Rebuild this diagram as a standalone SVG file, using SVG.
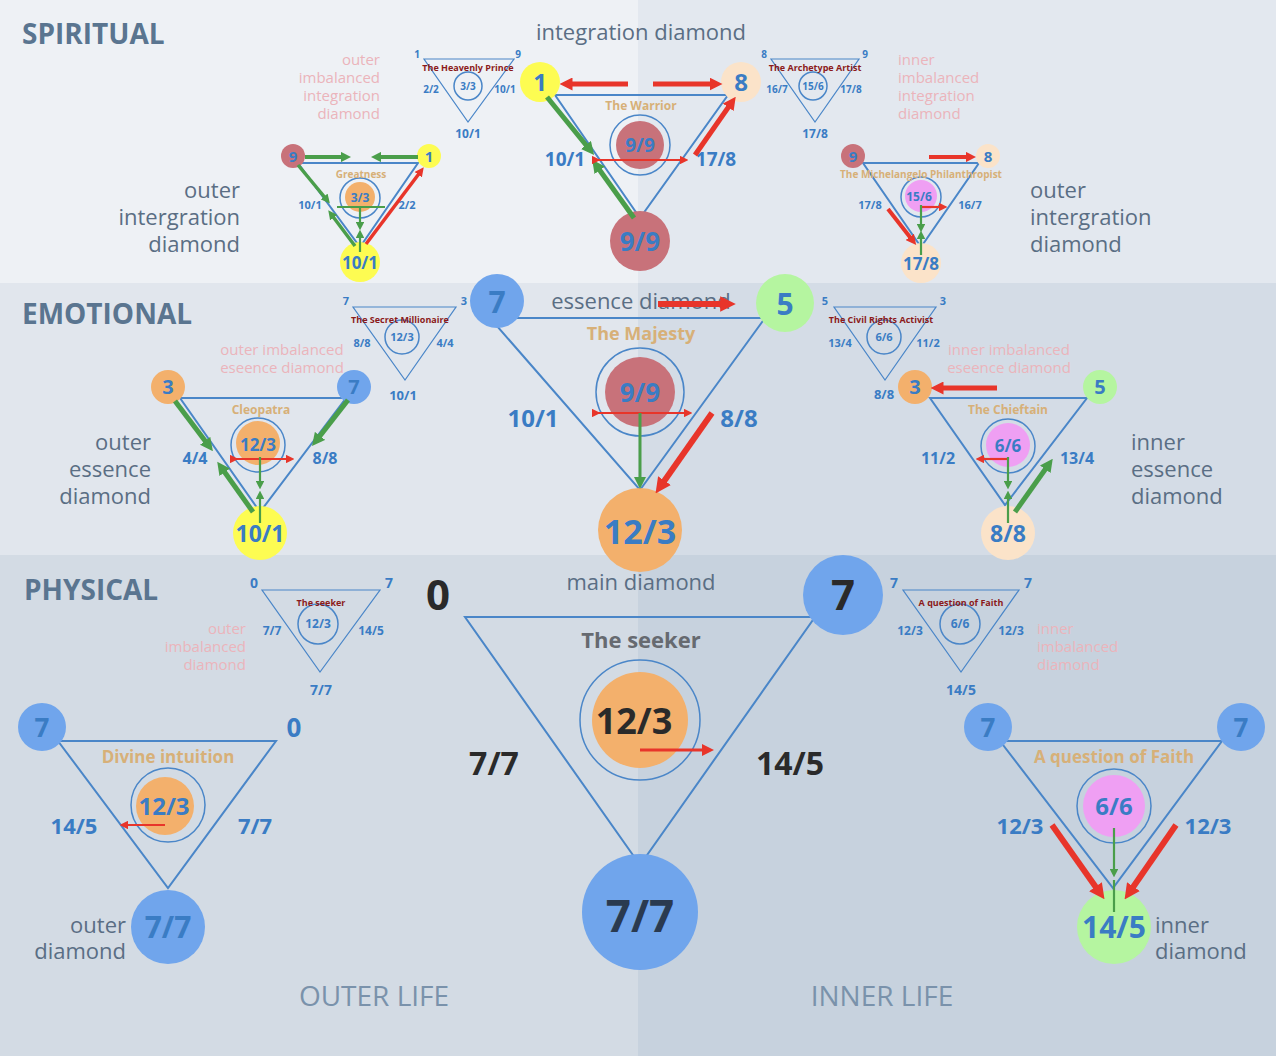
<svg xmlns="http://www.w3.org/2000/svg" width="1276" height="1056" viewBox="0 0 1276 1056">
<style>
text{font-family:"Open Sans","Liberation Sans",sans-serif}
.tri{fill:none;stroke:#4a86c8;stroke-width:2}
.tris{fill:none;stroke:#4a86c8;stroke-width:1.2}
.ring{fill:none;stroke:#4a86c8;stroke-width:1.5}
.lab{fill:#3a7cc4;font-weight:bold;text-anchor:middle}
.tt{fill:#d7b078;font-weight:bold;text-anchor:middle}
.st{fill:#8b1a1a;font-weight:bold;text-anchor:middle;font-size:9px}
.side{fill:#5a6e84;font-size:22px}
.pink{fill:#ebb4bb;font-size:15px}
.sec{fill:#5a7590;font-weight:bold;font-size:28px}
.red{stroke:#e8352a;fill:none}
.grn{stroke:#4a9e4a;fill:none}
.yel{fill:#fdfc52}.blu{fill:#70a5ec}.org{fill:#f3b06c}.pch{fill:#fbe3c9}.rd{fill:#c8727a}.pnk{fill:#ef9ff3}.lgr{fill:#b5f5a0}
</style>
<defs>
<marker id="ar" viewBox="0 0 10 10" refX="5" refY="5" markerWidth="2.6" markerHeight="2.6" orient="auto"><path d="M0,0L10,5L0,10z" fill="#e8352a"/></marker>
<marker id="ag" viewBox="0 0 10 10" refX="5" refY="5" markerWidth="2.6" markerHeight="2.6" orient="auto"><path d="M0,0L10,5L0,10z" fill="#4a9e4a"/></marker>
<marker id="ars" viewBox="0 0 10 10" refX="5" refY="5" markerWidth="4" markerHeight="4" orient="auto"><path d="M0,0L10,5L0,10z" fill="#e8352a"/></marker>
<marker id="ags" viewBox="0 0 10 10" refX="5" refY="5" markerWidth="4" markerHeight="4" orient="auto"><path d="M0,0L10,5L0,10z" fill="#4a9e4a"/></marker>
</defs>
<g id="background">
<rect x="0" y="0" width="638" height="283" fill="#eef1f5"/>
<rect x="638" y="0" width="638" height="283" fill="#e3e8ef"/>
<rect x="0" y="283" width="638" height="272" fill="#e1e6ed"/>
<rect x="638" y="283" width="638" height="272" fill="#d4dce6"/>
<rect x="0" y="555" width="638" height="501" fill="#d3dbe4"/>
<rect x="638" y="555" width="638" height="501" fill="#c7d2de"/>
</g>
<g id="labels">
<text class="sec" x="22" y="44">SPIRITUAL</text>
<text class="sec" x="22" y="324">EMOTIONAL</text>
<text class="sec" x="24" y="600">PHYSICAL</text>
<text x="641" y="40" text-anchor="middle" font-size="22" fill="#5a6e84">integration diamond</text>
<text x="641" y="309" text-anchor="middle" font-size="22" fill="#5a6e84">essence diamond</text>
<text x="641" y="590" text-anchor="middle" font-size="22" fill="#5a6e84">main diamond</text>
<text class="side" text-anchor="end"><tspan x="240" y="198">outer</tspan><tspan x="240" y="225">intergration</tspan><tspan x="240" y="252">diamond</tspan></text>
<text class="side"><tspan x="1030" y="198">outer</tspan><tspan x="1030" y="225">intergration</tspan><tspan x="1030" y="252">diamond</tspan></text>
<text class="side" text-anchor="end"><tspan x="151" y="450">outer</tspan><tspan x="151" y="477">essence</tspan><tspan x="151" y="504">diamond</tspan></text>
<text class="side"><tspan x="1131" y="450">inner</tspan><tspan x="1131" y="477">essence</tspan><tspan x="1131" y="504">diamond</tspan></text>
<text class="side" text-anchor="end"><tspan x="126" y="933">outer</tspan><tspan x="126" y="959">diamond</tspan></text>
<text class="side"><tspan x="1155" y="933">inner</tspan><tspan x="1155" y="959">diamond</tspan></text>
<text x="374" y="1006" text-anchor="middle" font-size="28" fill="#7a92ab">OUTER LIFE</text>
<text x="882" y="1006" text-anchor="middle" font-size="28" fill="#7a92ab">INNER LIFE</text>
<text class="pink" text-anchor="end"><tspan x="380" y="65">outer</tspan><tspan x="380" y="83">imbalanced</tspan><tspan x="380" y="101">integration</tspan><tspan x="380" y="119">diamond</tspan></text>
<text class="pink"><tspan x="898" y="65">inner</tspan><tspan x="898" y="83">imbalanced</tspan><tspan x="898" y="101">integration</tspan><tspan x="898" y="119">diamond</tspan></text>
<text class="pink" text-anchor="middle"><tspan x="282" y="355">outer imbalanced</tspan><tspan x="282" y="373">eseence diamond</tspan></text>
<text class="pink" text-anchor="middle"><tspan x="1009" y="355">inner imbalanced</tspan><tspan x="1009" y="373">eseence diamond</tspan></text>
<text class="pink" text-anchor="end"><tspan x="246" y="634">outer</tspan><tspan x="246" y="652">imbalanced</tspan><tspan x="246" y="670">diamond</tspan></text>
<text class="pink"><tspan x="1037" y="634">inner</tspan><tspan x="1037" y="652">imbalanced</tspan><tspan x="1037" y="670">diamond</tspan></text>
</g>
<g id="small-heavenly-prince">
<path class="tris" d="M424,59H514L468,122Z"/><circle class="ring" cx="468" cy="86" r="14" stroke-width="1"/>
<text class="st" x="468" y="71">The Heavenly Prince</text>
<g class="lab" font-size="10"><text x="417" y="58">1</text><text x="518" y="58">9</text><text x="468" y="90">3/3</text><text x="431" y="93">2/2</text><text x="505" y="93">10/1</text><text x="468" y="138" font-size="12">10/1</text></g>
</g>
<g id="small-archetype-artist">
<path class="tris" d="M771,59H859L815,122Z"/><circle class="ring" cx="813" cy="86" r="14" stroke-width="1"/>
<text class="st" x="815" y="71">The Archetype Artist</text>
<g class="lab" font-size="10"><text x="764" y="58">8</text><text x="865" y="58">9</text><text x="813" y="90">15/6</text><text x="777" y="93">16/7</text><text x="851" y="93">17/8</text><text x="815" y="138" font-size="12">17/8</text></g>
</g>
<g id="small-secret-millionaire">
<path class="tris" d="M353,307H456L405,380Z"/><circle class="ring" cx="402" cy="337" r="17" stroke-width="1"/>
<text class="st" x="400" y="323">The Secret Millionaire</text>
<g class="lab" font-size="11"><text x="346" y="305">7</text><text x="464" y="305">3</text><text x="402" y="341">12/3</text><text x="362" y="347">8/8</text><text x="445" y="347">4/4</text><text x="403" y="400" font-size="13">10/1</text></g>
</g>
<g id="small-civil-rights">
<path class="tris" d="M834,307H936L885,380Z"/><circle class="ring" cx="884" cy="337" r="17" stroke-width="1"/>
<text class="st" x="881" y="323">The Civil Rights Activist</text>
<g class="lab" font-size="11"><text x="825" y="305">5</text><text x="943" y="305">3</text><text x="884" y="341">6/6</text><text x="840" y="347">13/4</text><text x="928" y="347">11/2</text><text x="884" y="399" font-size="13">8/8</text></g>
</g>
<g id="small-seeker">
<path class="tris" d="M262,590H380L320,672Z"/><circle class="ring" cx="318" cy="624" r="20" stroke-width="1"/>
<text class="st" x="321" y="606">The seeker</text>
<g class="lab" font-size="12"><text x="254" y="588" font-size="14">0</text><text x="389" y="588" font-size="14">7</text><text x="318" y="628">12/3</text><text x="272" y="635">7/7</text><text x="371" y="635">14/5</text><text x="321" y="695" font-size="14">7/7</text></g>
</g>
<g id="small-question-faith">
<path class="tris" d="M903,590H1019L961,672Z"/><circle class="ring" cx="960" cy="624" r="20" stroke-width="1"/>
<text class="st" x="961" y="606">A question of Faith</text>
<g class="lab" font-size="12"><text x="894" y="588" font-size="14">7</text><text x="1028" y="588" font-size="14">7</text><text x="960" y="628">6/6</text><text x="910" y="635">12/3</text><text x="1011" y="635">12/3</text><text x="961" y="695" font-size="14">14/5</text></g>
</g>
<g id="integration-diamond">
<path class="tri" d="M555,95H728L640,218Z"/>
<circle class="yel" cx="540" cy="82" r="20"/><circle class="pch" cx="741" cy="82" r="20"/><circle class="rd" cx="640" cy="241" r="30"/>
<circle class="ring" cx="640" cy="145" r="30"/><circle class="rd" cx="640" cy="145" r="24"/>
<text class="tt" x="641" y="110" font-size="12">The Warrior</text>
<g class="lab"><text x="540" y="91" font-size="24">1</text><text x="741" y="91" font-size="24">8</text><text x="640" y="251" font-size="26">9/9</text><text x="640" y="152" font-size="19">9/9</text><text x="565" y="166" font-size="19">10/1</text><text x="716" y="166" font-size="19">17/8</text></g>
</g>
<g id="outer-integration-diamond">
<path class="tri" d="M298,163H418L360,247Z"/>
<circle class="rd" cx="293" cy="156" r="12"/><circle class="yel" cx="429" cy="156" r="12"/><circle class="yel" cx="360" cy="262" r="20"/>
<circle class="ring" cx="360" cy="198" r="20"/><circle class="org" cx="360" cy="197" r="15"/>
<text class="tt" x="361" y="178" font-size="10">Greatness</text>
<g class="lab"><text x="293" y="162" font-size="15">9</text><text x="429" y="162" font-size="15">1</text><text x="360" y="269" font-size="17">10/1</text><text x="360" y="202" font-size="12">3/3</text><text x="310" y="209" font-size="11">10/1</text><text x="407" y="209" font-size="11">2/2</text></g>
</g>
<g id="outer-integration-diamond-2">
<path class="tri" d="M863,163H979L921,247Z"/>
<circle class="rd" cx="853" cy="156" r="12"/><circle class="pch" cx="988" cy="156" r="12"/><circle class="pch" cx="921" cy="263" r="20"/>
<circle class="ring" cx="921" cy="197" r="20"/><circle class="pnk" cx="921" cy="196" r="16"/>
<text class="tt" x="921" y="178" font-size="10">The Michelangelo Philanthropist</text>
<g class="lab"><text x="853" y="162" font-size="15">9</text><text x="988" y="162" font-size="15">8</text><text x="921" y="270" font-size="17">17/8</text><text x="919" y="201" font-size="12">15/6</text><text x="870" y="209" font-size="11">17/8</text><text x="970" y="209" font-size="11">16/7</text></g>
</g>
<g id="essence-diamond">
<path class="tri" d="M490,318H765L640,490Z"/>
<circle class="blu" cx="497" cy="301" r="27"/><circle class="lgr" cx="785" cy="303" r="29"/><circle class="org" cx="640" cy="530" r="42"/>
<circle class="ring" cx="640" cy="392" r="44"/><circle class="rd" cx="640" cy="392" r="35"/>
<text class="tt" x="641" y="340" font-size="18">The Majesty</text>
<g class="lab"><text x="497" y="313" font-size="30">7</text><text x="785" y="315" font-size="30">5</text><text x="640" y="544" font-size="34">12/3</text><text x="640" y="402" font-size="26">9/9</text><text x="533" y="427" font-size="24">10/1</text><text x="739" y="427" font-size="24">8/8</text></g>
</g>
<g id="outer-essence-diamond">
<path class="tri" d="M180,398H346L260,512Z"/>
<circle class="org" cx="168" cy="387" r="17"/><circle class="blu" cx="354" cy="387" r="17"/><circle class="yel" cx="260" cy="533" r="27"/>
<circle class="ring" cx="258" cy="445" r="27"/><circle class="org" cx="258" cy="443" r="22"/>
<text class="tt" x="261" y="414" font-size="12">Cleopatra</text>
<g class="lab"><text x="168" y="394" font-size="20">3</text><text x="354" y="394" font-size="20">7</text><text x="260" y="542" font-size="23">10/1</text><text x="258" y="451" font-size="17">12/3</text><text x="195" y="464" font-size="16">4/4</text><text x="325" y="464" font-size="16">8/8</text></g>
</g>
<g id="inner-essence-diamond">
<path class="tri" d="M930,398H1087L1005,505Z"/>
<circle class="org" cx="915" cy="387" r="17"/><circle class="lgr" cx="1100" cy="387" r="17"/><circle class="pch" cx="1008" cy="533" r="27"/>
<circle class="ring" cx="1008" cy="446" r="27"/><circle class="pnk" cx="1008" cy="445" r="22"/>
<text class="tt" x="1008" y="414" font-size="12">The Chieftain</text>
<g class="lab"><text x="915" y="394" font-size="20">3</text><text x="1100" y="394" font-size="20">5</text><text x="1008" y="542" font-size="23">8/8</text><text x="1008" y="452" font-size="17">6/6</text><text x="938" y="464" font-size="16">11/2</text><text x="1077" y="464" font-size="16">13/4</text></g>
</g>
<g id="main-diamond">
<path class="tri" d="M465,617H815L640,865Z" stroke-width="3"/>
<circle class="blu" cx="843" cy="595" r="40"/><circle class="blu" cx="640" cy="912" r="58"/>
<circle class="ring" cx="640" cy="720" r="60" stroke-width="2"/><circle class="org" cx="640" cy="720" r="48"/>
<text class="tt" x="641" y="648" font-size="22" style="fill:#666a70">The seeker</text>
<g class="lab" style="fill:#2a2a2a"><text x="438" y="610" font-size="42">0</text><text x="843" y="610" font-size="42">7</text><text x="640" y="932" font-size="44" style="fill:#2a3a50">7/7</text><text x="634" y="734" font-size="36">12/3</text><text x="494" y="775" font-size="32">7/7</text><text x="790" y="775" font-size="32">14/5</text></g>
</g>
<g id="outer-diamond">
<path class="tri" d="M58,741H276L168,888Z"/>
<circle class="blu" cx="42" cy="727" r="24"/><circle class="blu" cx="168" cy="927" r="37"/>
<circle class="ring" cx="168" cy="805" r="37"/><circle class="org" cx="165" cy="806" r="29"/>
<text class="tt" x="168" y="763" font-size="17">Divine intuition</text>
<g class="lab"><text x="42" y="737" font-size="26">7</text><text x="294" y="737" font-size="26">0</text><text x="168" y="938" font-size="30">7/7</text><text x="164" y="815" font-size="24">12/3</text><text x="74" y="834" font-size="22">14/5</text><text x="255" y="834" font-size="22">7/7</text></g>
</g>
<g id="inner-diamond">
<path class="tri" d="M1000,741H1222L1113,888Z"/>
<circle class="blu" cx="988" cy="727" r="24"/><circle class="blu" cx="1241" cy="727" r="24"/><circle class="lgr" cx="1114" cy="927" r="37"/>
<circle class="ring" cx="1114" cy="806" r="37"/><circle class="pnk" cx="1114" cy="806" r="31"/>
<text class="tt" x="1114" y="763" font-size="17">A question of Faith</text>
<g class="lab"><text x="988" y="737" font-size="26">7</text><text x="1241" y="737" font-size="26">7</text><text x="1114" y="938" font-size="30">14/5</text><text x="1114" y="815" font-size="24">6/6</text><text x="1020" y="834" font-size="22">12/3</text><text x="1208" y="834" font-size="22">12/3</text></g>
</g>
<g id="connectors">
<g class="red" stroke-width="5" marker-end="url(#ar)">
<line x1="628" y1="84" x2="566" y2="84"/><line x1="653" y1="84" x2="716" y2="84"/>
<line x1="695" y1="155" x2="732" y2="102"/>
<line x1="658" y1="304" x2="728" y2="304" stroke-width="6"/>
<line x1="712" y1="413" x2="660" y2="487" stroke-width="6"/>
<line x1="366" y1="244" x2="421" y2="171" stroke-width="3.5"/>
<line x1="929" y1="157" x2="971" y2="157" stroke-width="4"/>
<line x1="888" y1="209" x2="913" y2="241" stroke-width="4"/>
<line x1="997" y1="388" x2="937" y2="388"/>
<line x1="1052" y1="825" x2="1100" y2="893" stroke-width="6"/><line x1="1176" y1="825" x2="1129" y2="893" stroke-width="6"/>
</g>
<g class="grn" stroke-width="5" marker-end="url(#ag)">
<line x1="547" y1="97" x2="590" y2="150"/><line x1="634" y1="218" x2="596" y2="165"/>
<line x1="305" y1="157" x2="346" y2="157" stroke-width="4"/><line x1="418" y1="157" x2="376" y2="157" stroke-width="4"/>
<line x1="298" y1="165" x2="327" y2="200" stroke-width="3.5"/><line x1="355" y1="246" x2="331" y2="214" stroke-width="3.5"/>
<line x1="175" y1="401" x2="209" y2="446"/><line x1="253" y1="512" x2="221" y2="467"/>
<line x1="348" y1="400" x2="316" y2="441"/>
<line x1="1015" y1="512" x2="1049" y2="464"/>
</g>
<g stroke-width="2.2">
<line class="red" x1="596" y1="160" x2="684" y2="160" marker-start="url(#ars)" marker-end="url(#ars)"/>
<line class="red" x1="596" y1="413" x2="688" y2="413" marker-start="url(#ars)" marker-end="url(#ars)"/>
<line class="red" x1="234" y1="459" x2="290" y2="459" marker-start="url(#ars)" marker-end="url(#ars)"/>
<line class="red" x1="640" y1="750" x2="708" y2="750" stroke-width="3" marker-end="url(#ars)"/>
<line class="red" x1="165" y1="825" x2="124" y2="825" marker-end="url(#ars)"/>
<line class="red" x1="921" y1="207" x2="943" y2="207" marker-end="url(#ars)"/>
<line class="red" x1="1008" y1="459" x2="980" y2="459" marker-end="url(#ars)"/>
<line class="grn" x1="337" y1="207" x2="385" y2="207"/>
<line class="grn" x1="360" y1="207" x2="360" y2="226" marker-end="url(#ags)"/><line class="grn" x1="360" y1="252" x2="360" y2="234" marker-end="url(#ags)"/>
<line class="grn" x1="921" y1="205" x2="921" y2="228" marker-end="url(#ags)"/><line class="grn" x1="921" y1="255" x2="921" y2="235" marker-end="url(#ags)"/>
<line class="grn" x1="260" y1="457" x2="260" y2="485" marker-end="url(#ags)"/><line class="grn" x1="260" y1="523" x2="260" y2="495" marker-end="url(#ags)"/>
<line class="grn" x1="1008" y1="457" x2="1008" y2="485" marker-end="url(#ags)"/><line class="grn" x1="1008" y1="523" x2="1008" y2="495" marker-end="url(#ags)"/>
<line class="grn" x1="640" y1="413" x2="640" y2="483" stroke-width="3" marker-end="url(#ags)"/>
<line class="grn" x1="1114" y1="828" x2="1114" y2="873" marker-end="url(#ags)"/>
<line class="grn" x1="1114" y1="912" x2="1114" y2="880"/>
</g>
</g>
</svg>
